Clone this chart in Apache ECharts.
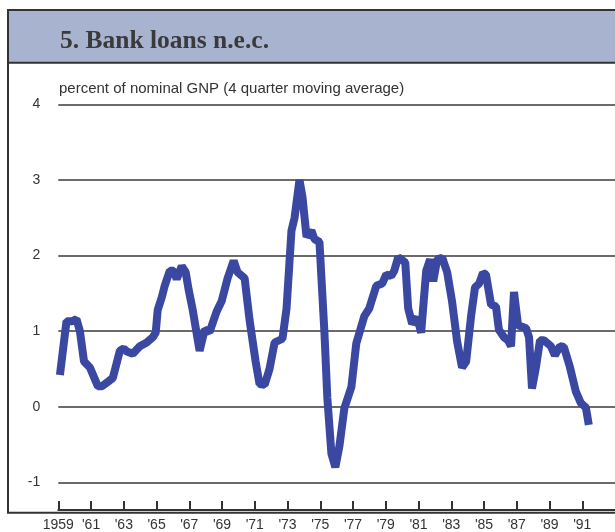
<!DOCTYPE html>
<html lang="en">
<head>
    <meta charset="UTF-8">
    <title>Bank loans n.e.c.</title>
    <script src="https://cdn.jsdelivr.net/npm/echarts@6/dist/echarts.min.js"></script>
    <style>
        html, body { margin: 0; padding: 0; background: #fff; }
    </style>
</head>
<body>
    <div id="box" style="width:615px;height:532px"></div>
</body>
<script>
    // points (year, percent of nominal GNP)
    const years = [
        1959.10, 1959.50, 1959.83, 1960.11, 1960.32, 1960.57, 1960.93, 1961.42, 1961.66, 1961.97,
        1962.33, 1962.76, 1963.00, 1963.19, 1963.55, 1963.98, 1964.40, 1964.77, 1964.95, 1965.07,
        1965.32, 1965.50, 1965.81, 1966.05, 1966.23, 1966.54, 1966.78, 1966.96, 1967.21, 1967.63,
        1967.94, 1968.24, 1968.67, 1968.98, 1969.34, 1969.71, 1969.95, 1970.38, 1970.68, 1971.05,
        1971.29, 1971.60, 1971.90, 1972.21, 1972.69, 1972.94, 1973.24, 1973.43, 1973.73, 1973.91,
        1974.16, 1974.46, 1974.64, 1974.95, 1975.25, 1975.43, 1975.68, 1975.92, 1976.17, 1976.47,
        1976.90, 1977.20, 1977.69, 1977.99, 1978.42, 1978.78, 1979.03, 1979.33, 1979.52, 1979.76,
        1980.19, 1980.37, 1980.61, 1980.92, 1981.16, 1981.47, 1981.71, 1981.90, 1982.14, 1982.45,
        1982.75, 1983.05, 1983.36, 1983.66, 1983.91, 1984.21, 1984.45, 1984.70, 1984.94, 1985.12,
        1985.43, 1985.73, 1985.91, 1986.22, 1986.46, 1986.65, 1986.83, 1987.08, 1987.57, 1987.75,
        1987.93, 1988.17, 1988.42, 1988.66, 1989.09, 1989.33, 1989.63, 1989.88, 1990.24, 1990.61,
        1990.91, 1991.22, 1991.40
    ];
    const loans = [
        0.42, 1.13, 1.13, 1.16, 1.00, 0.60, 0.52, 0.27, 0.27, 0.32,
        0.38, 0.74, 0.77, 0.73, 0.70, 0.80, 0.85, 0.92, 0.98, 1.28,
        1.45, 1.60, 1.80, 1.80, 1.69, 1.86, 1.78, 1.55, 1.28, 0.74,
        1.02, 0.99, 1.26, 1.40, 1.70, 1.93, 1.78, 1.70, 1.15, 0.60,
        0.30, 0.29, 0.50, 0.85, 0.90, 1.30, 2.33, 2.50, 3.00, 2.78,
        2.25, 2.33, 2.22, 2.18, 1.00, 0.12, -0.62, -0.80, -0.52, -0.02,
        0.26, 0.84, 1.20, 1.30, 1.60, 1.63, 1.75, 1.73, 1.80, 1.98,
        1.91, 1.30, 1.10, 1.18, 0.98, 1.80, 1.95, 1.66, 1.95, 1.97,
        1.78, 1.39, 0.86, 0.52, 0.60, 1.20, 1.58, 1.63, 1.77, 1.75,
        1.35, 1.33, 1.02, 0.92, 0.88, 0.80, 1.52, 1.08, 1.04, 0.92,
        0.24, 0.52, 0.88, 0.88, 0.80, 0.68, 0.80, 0.79, 0.53, 0.20,
        0.05, -0.01, -0.24
    ];
    const xLabels = ["1959", "'61", "'63", "'65", "'67", "'69", "'71", "'73", "'75",
        "'77", "'79", "'81", "'83", "'85", "'87", "'89", "'91"];

    var myChart = echarts.init(document.getElementById('box'));

    var option = {
        animation: false,
        backgroundColor: '#fff',
        title: [
            {
                text: '5. Bank loans n.e.c.',
                left: 60,
                top: 28,
                padding: 0,
                textStyle: {
                    fontFamily: 'Liberation Serif',
                    fontWeight: 'bold',
                    fontSize: 25.5,
                    color: '#3a3a3a'
                }
            },
            {
                text: 'percent of nominal GNP (4 quarter moving average)',
                left: 59,
                top: 81,
                padding: 0,
                textStyle: {
                    fontFamily: 'Liberation Sans',
                    fontWeight: 'normal',
                    fontSize: 15,
                    color: '#333'
                }
            }
        ],
        // frame and shaded title bar
        graphic: [
            {
                type: 'rect',
                z: -1,
                shape: { x: 8, y: 10, width: 620, height: 502.7 },
                style: { fill: 'none', stroke: '#333', lineWidth: 2 }
            },
            {
                type: 'rect',
                z: -1,
                shape: { x: 8, y: 10, width: 620, height: 52.7 },
                style: { fill: '#a8b3d0', stroke: '#333', lineWidth: 2 }
            }
        ],
        grid: {
            left: 58.3,
            right: -1.6,
            top: 104.5,
            bottom: 47
        },
        xAxis: {
            type: 'value',
            min: 1959,
            max: 1993,
            interval: 2,
            offset: 27.7,
            axisLine: { show: true, onZero: false, lineStyle: { color: '#333', width: 2 } },
            axisTick: { show: true, inside: true, length: 9, lineStyle: { color: '#333', width: 2 } },
            axisLabel: {
                margin: 8,
                fontFamily: 'Liberation Sans',
                fontSize: 14,
                color: '#333',
                showMaxLabel: false,
                formatter: function (v) {
                    var i = Math.round((v - 1959) / 2);
                    return xLabels[i] || '';
                }
            },
            splitLine: { show: false }
        },
        yAxis: {
            type: 'value',
            min: -1,
            max: 4,
            interval: 1,
            axisLine: { show: false },
            axisTick: { show: false },
            axisLabel: {
                margin: 18,
                fontFamily: 'Liberation Sans',
                fontSize: 14,
                color: '#333'
            },
            splitLine: { show: true, lineStyle: { color: '#3a3a3a', width: 1.5 } }
        },
        series: [
            {
                type: 'line',
                data: years.map((y, i) => [y, loans[i]]),
                symbol: 'none',
                lineStyle: { color: '#3b48a2', width: 8 }
            }
        ]
    };

    myChart.setOption(option);
</script>
</html>
